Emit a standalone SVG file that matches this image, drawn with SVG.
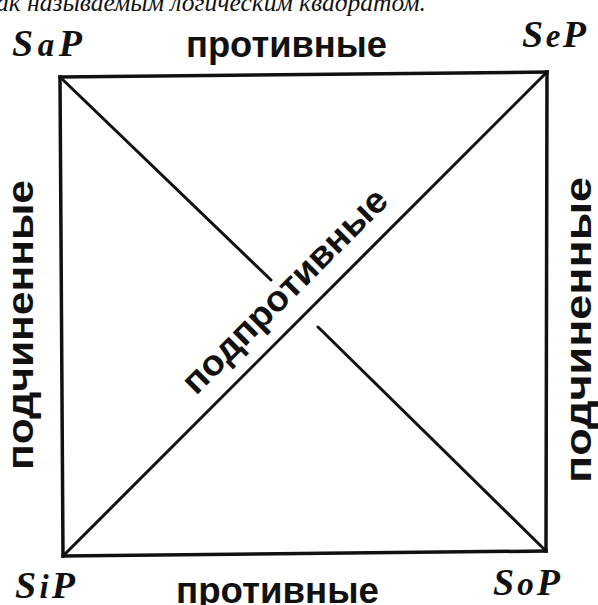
<svg xmlns="http://www.w3.org/2000/svg" width="598" height="605" viewBox="0 0 598 605">
<style>
.edge{stroke:#111;stroke-width:3.5;fill:none;stroke-linecap:square}
.diag{stroke:#111;stroke-width:3;fill:none;stroke-linecap:round}
.rel{font-family:"Liberation Sans",Arial,sans-serif;font-weight:bold;font-size:36px;fill:#111}
.corner{font-family:"Liberation Serif","Times New Roman",serif;font-weight:bold;font-style:italic;font-size:38px;fill:#111}
.cap{font-family:"Liberation Serif","Times New Roman",serif;font-style:italic;font-size:25px;fill:#111}
</style>
<rect width="598" height="605" fill="#fff"/>
<text class="cap" x="-4" y="11" textLength="430" lengthAdjust="spacingAndGlyphs">ак называемым логическим квадратом.</text>
<g id="connectors">
<path class="edge" d="M60,77 L547,72"/>
<path class="edge" d="M63,556 L546,551"/>
<path class="edge" d="M60,77 L63,556"/>
<path class="edge" d="M547,72 L546,551"/>
<path class="diag" d="M60,77 L271,280"/>
<path class="diag" d="M318,327 L546,551"/>
<path class="diag" d="M63,556 L547,72"/>
</g>
<g id="SaP"><text class="corner" x="12" y="56" textLength="70" lengthAdjust="spacing">S<tspan font-size="33">a</tspan>P</text></g>
<g id="SeP"><text class="corner" x="522" y="47" textLength="64" lengthAdjust="spacing">S<tspan font-size="33">e</tspan>P</text></g>
<g id="SiP"><text class="corner" x="15" y="598" textLength="60" lengthAdjust="spacing">S<tspan font-size="33">i</tspan>P</text></g>
<g id="SoP"><text class="corner" x="493" y="595" textLength="67" lengthAdjust="spacing">S<tspan font-size="33">o</tspan>P</text></g>
<g id="top-label"><text class="rel" x="186" y="57" textLength="201" lengthAdjust="spacingAndGlyphs">противные</text></g>
<g id="bottom-label"><text class="rel" x="176" y="603" textLength="203" lengthAdjust="spacingAndGlyphs">противные</text></g>
<g id="left-label"><text class="rel" transform="translate(33,470) rotate(-90)" x="0" y="0" textLength="290" lengthAdjust="spacingAndGlyphs">подчиненные</text></g>
<g id="right-label"><text class="rel" transform="translate(591,483) rotate(-90)" x="0" y="0" textLength="306" lengthAdjust="spacingAndGlyphs">подчиненные</text></g>
<g id="center-label"><text class="rel" transform="translate(196,396) rotate(-44.9)" x="0" y="0" textLength="274" lengthAdjust="spacingAndGlyphs">подпротивные</text></g>
</svg>
